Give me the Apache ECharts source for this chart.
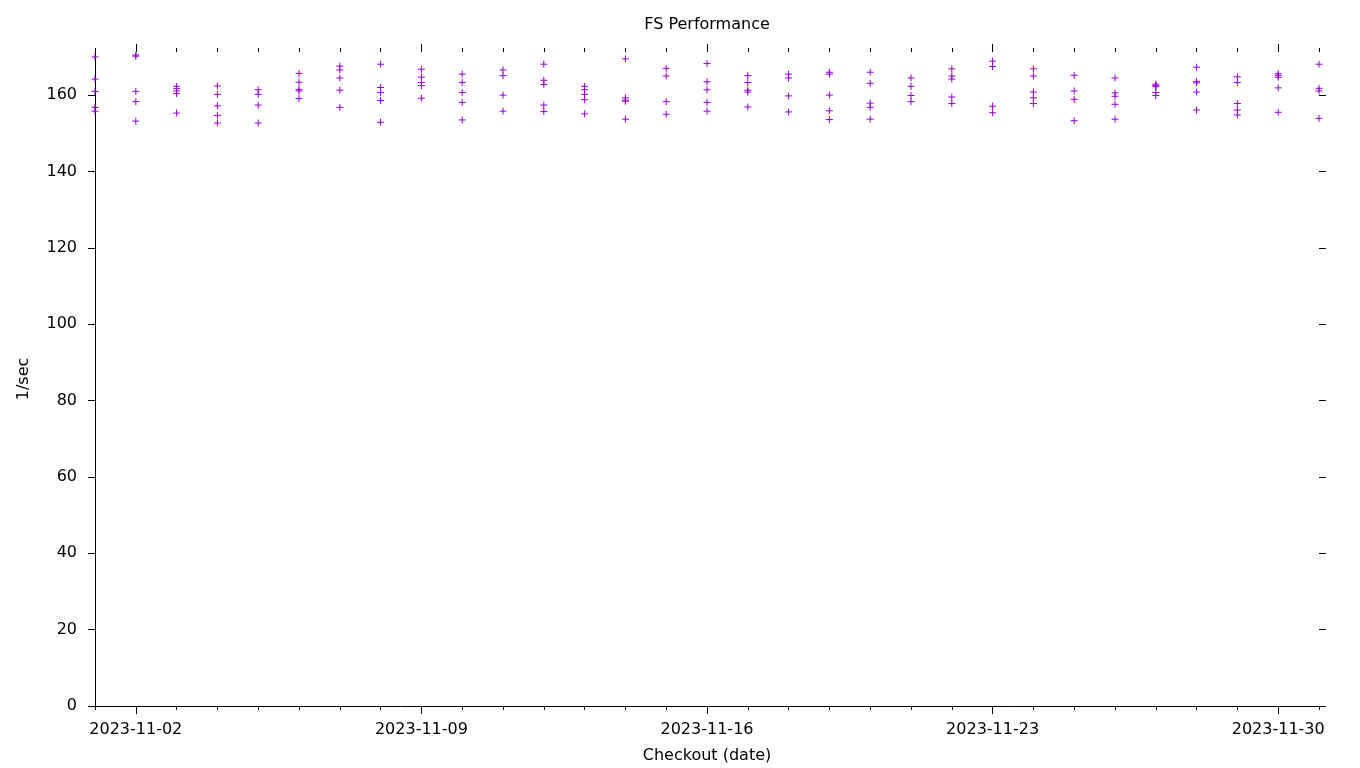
<!DOCTYPE html>
<html>
<head>
<meta charset="utf-8">
<script src="https://cdn.jsdelivr.net/npm/echarts@6/dist/echarts.min.js"></script>
<style>html,body{margin:0;padding:0;background:#fff;}#c{width:1360px;height:768px;}</style>
</head>
<body>
<div id="c"></div>
<script>
const title = 'FS Performance';
const xName = 'Checkout (date)';
const yName = '1/sec';
const dates = ['2023-11-01','2023-11-02','2023-11-03','2023-11-04','2023-11-05','2023-11-06','2023-11-07','2023-11-08','2023-11-09','2023-11-10','2023-11-11','2023-11-12','2023-11-13','2023-11-14','2023-11-15','2023-11-16','2023-11-17','2023-11-18','2023-11-19','2023-11-20','2023-11-21','2023-11-22','2023-11-23','2023-11-24','2023-11-25','2023-11-26','2023-11-27','2023-11-28','2023-11-29','2023-11-30','2023-12-01'];
const values = [
 [170.0,164.2,161.0,156.8,155.8],
 [170.5,170.2,161.0,158.3,153.2],
 [162.3,161.7,161.1,160.4,155.3],
 [162.4,160.2,157.2,154.7,152.7],
 [161.4,160.2,157.4,152.7],
 [165.7,163.4,161.5,161.1,159.1],
 [167.6,166.6,164.5,161.3,156.8],
 [168.1,162.0,160.7,158.6,152.9],
 [166.8,164.7,163.3,162.5,159.2],
 [165.5,163.3,160.7,158.1,153.5],
 [166.6,165.1,160.0,155.8],
 [168.1,163.9,162.8,157.4,155.7],
 [162.3,161.4,160.2,158.8,155.1],
 [169.5,159.3,158.7,158.4,153.7],
 [167.0,165.0,158.3,155.0],
 [168.3,163.5,161.4,158.1,155.8],
 [165.1,163.3,161.3,160.8,156.9],
 [165.5,164.5,159.8,155.6],
 [166.0,165.5,160.0,155.9,153.6],
 [166.0,163.1,157.9,156.8,153.7],
 [164.5,162.3,159.9,158.3],
 [166.9,165.0,164.2,159.5,157.8],
 [168.9,167.5,157.1,155.4],
 [166.9,165.0,160.8,159.3,157.8],
 [165.2,161.1,158.9,153.3],
 [164.5,160.6,159.7,157.6,153.7],
 [162.9,162.5,162.2,160.7,159.9],
 [167.3,163.6,163.2,160.8,156.1],
 [164.8,163.3,157.8,156.1,154.8],
 [165.6,165.2,164.7,161.9,155.5],
 [168.1,161.8,161.1,153.9]
];
const labelDates = ['2023-11-02','2023-11-09','2023-11-16','2023-11-23','2023-11-30'];
const yTicks = [0,20,40,60,80,100,120,140,160];

const DAY = 86400000;
const base = Date.parse(dates[0]);
const dayIdx = d => (Date.parse(d) - base) / DAY;
const fmt = v => new Date(base + Math.round(v) * DAY).toISOString().slice(0, 10);
const allDays = dates.map(dayIdx);
const majorDays = labelDates.map(dayIdx);
const points = [];
dates.forEach((d, i) => values[i].forEach(v => points.push([dayIdx(d), v])));

const FONT = 'DejaVu Sans';
const black = '#000';
const xMin = allDays[0], xMax = allDays[allDays.length - 1];
const yMax = 171.3;

function xAxisDef(pos, major, showLine, showLabel) {
  return {
    type: 'value', position: pos, min: xMin, max: xMax,
    axisLine: { show: showLine, onZero: false, lineStyle: { color: black, width: 1 } },
    axisTick: { show: true, inside: false, length: major ? 8 : 4, customValues: major ? majorDays : allDays, lineStyle: { color: black, width: 1 } },
    axisLabel: { show: showLabel, customValues: majorDays, formatter: fmt, color: black, fontFamily: FONT, fontSize: 16, margin: 16 },
    splitLine: { show: false },
    name: (showLabel ? xName : ''), nameLocation: 'middle', nameGap: 42,
    nameTextStyle: { color: black, fontFamily: FONT, fontSize: 16 }
  };
}

const chart = echarts.init(document.getElementById('c'), null, { renderer: 'canvas' });
chart.setOption({
  animation: false,
  backgroundColor: '#fff',
  graphic: [{ type: 'text', x: 707, y: 25, style: { text: title, fill: black, font: '16px "DejaVu Sans"', textAlign: 'center', textVerticalAlign: 'middle' } }],
  grid: { left: 95, right: 41, top: 52, bottom: 62, containLabel: false, outerBoundsMode: 'none' },
  xAxis: [
    xAxisDef('bottom', true, true, true),
    xAxisDef('bottom', false, false, false),
    xAxisDef('top', true, false, false),
    xAxisDef('top', false, false, false)
  ],
  yAxis: [
    {
      type: 'value', position: 'left', min: 0, max: yMax,
      axisLine: { show: true, onZero: false, lineStyle: { color: black, width: 1 } },
      axisTick: { show: true, inside: false, length: 7, customValues: yTicks, lineStyle: { color: black } },
      axisLabel: { customValues: yTicks, color: black, fontFamily: FONT, fontSize: 16, margin: 18 },
      splitLine: { show: false },
      name: yName, nameLocation: 'middle', nameGap: 63, nameRotate: 90,
      nameTextStyle: { color: black, fontFamily: FONT, fontSize: 16 }
    },
    {
      type: 'value', position: 'right', min: 0, max: yMax,
      axisLine: { show: false, onZero: false },
      axisTick: { show: true, inside: false, length: 7, customValues: yTicks, lineStyle: { color: black } },
      axisLabel: { show: false, customValues: yTicks },
      splitLine: { show: false }
    }
  ],
  series: [{
    type: 'scatter', xAxisIndex: 0, yAxisIndex: 0, clip: false,
    symbol: 'path://M0,4H8M4,0V8', symbolSize: 7,
    itemStyle: { color: 'rgba(0,0,0,0)', borderColor: '#9400d3', borderWidth: 1, opacity: 1 },
    emphasis: { disabled: true },
    data: points
  }]
});
</script>
</body>
</html>
